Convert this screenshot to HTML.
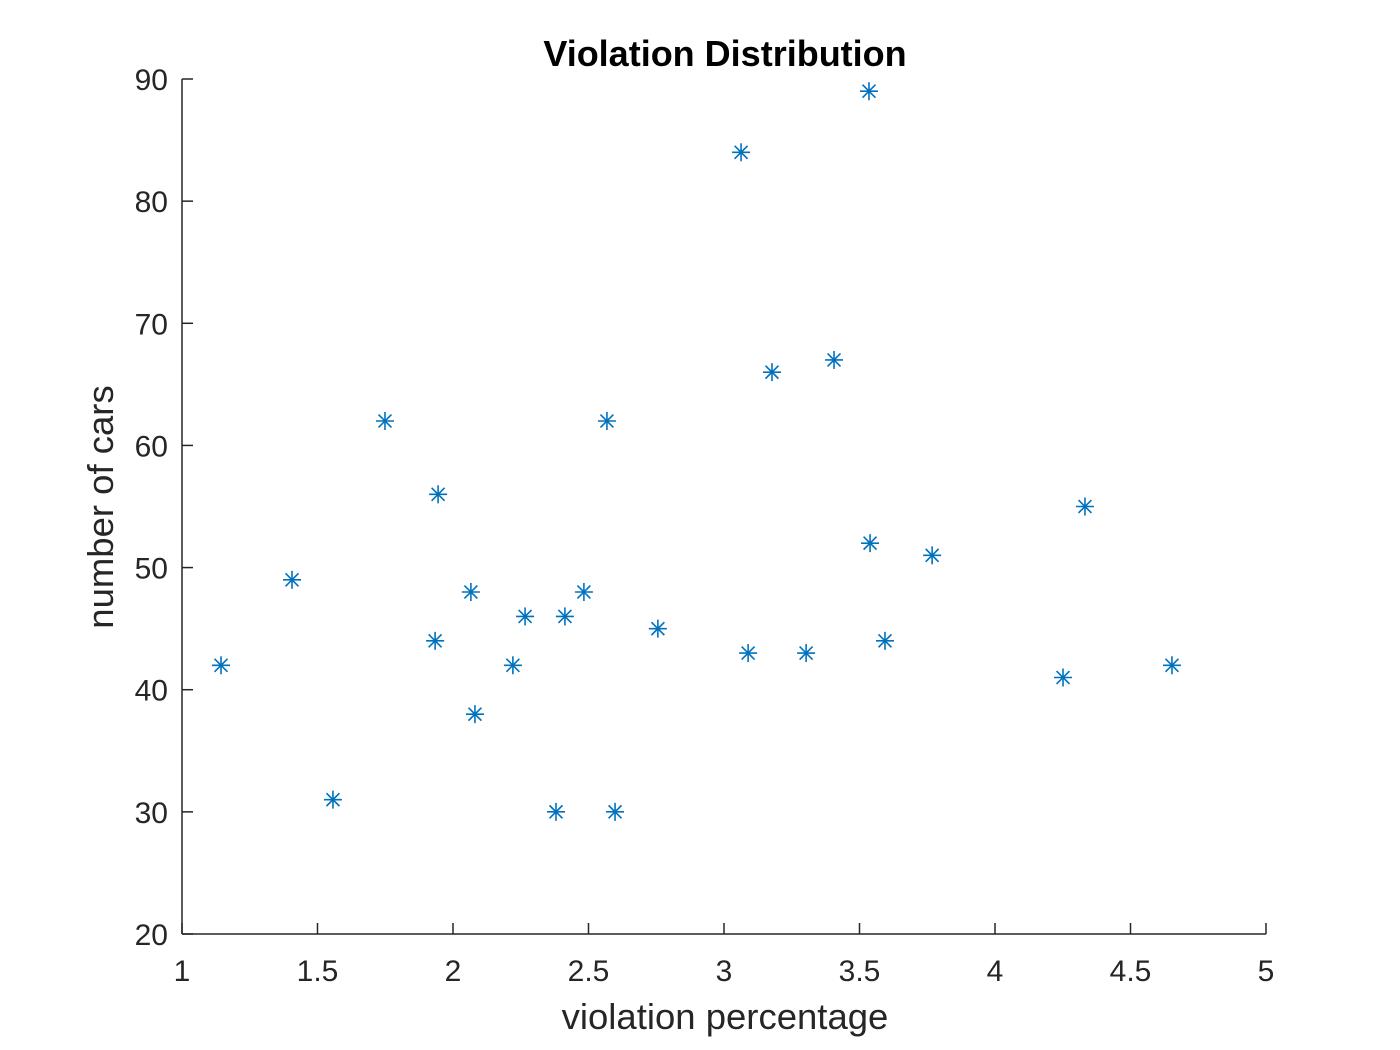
<!DOCTYPE html>
<html><head><meta charset="utf-8"><style>
html,body{margin:0;padding:0;background:#fff;}
svg{display:block;font-family:"Liberation Sans",Arial,sans-serif;}
</style></head><body>
<svg id="chart" width="1400" height="1050" viewBox="0 0 1400 1050">
<text x="725" y="66" text-anchor="middle" font-size="36" font-weight="bold" fill="#000">Violation Distribution</text>
<g id="axes"></g>
<g id="points"></g>
<text x="725" y="1029" text-anchor="middle" font-size="36.5" fill="#262626">violation percentage</text>
<text transform="translate(113,507) rotate(-90)" text-anchor="middle" font-size="36.5" fill="#262626">number of cars</text>
</svg>
<script>
const xs=[1.144,1.406,1.557,1.749,1.945,1.934,2.066,2.081,2.221,2.266,2.413,2.483,2.380,2.568,2.598,2.756,3.063,3.089,3.177,3.303,3.406,3.535,3.539,3.594,3.768,4.251,4.332,4.653];
const ys=[42,49,31,62,56,44,48,38,42,46,46,48,30,62,30,45,84,43,66,43,67,89,52,44,51,41,55,42];
const xTicks=[1,1.5,2,2.5,3,3.5,4,4.5,5];
const yTicks=[20,30,40,50,60,70,80,90];
const L=182,R=1266,T=79,B=934;
const sx=v=>L+(v-1)/4*(R-L);
const sy=v=>B-(v-20)/70*(B-T);
const NS="http://www.w3.org/2000/svg";
const axes=document.getElementById('axes');
function mk(tag,attrs,parent){const e=document.createElementNS(NS,tag);for(const k in attrs)e.setAttribute(k,attrs[k]);parent.appendChild(e);return e;}
const xl=mk('line',{x1:L,y1:B,x2:R,y2:B,stroke:'#262626','stroke-width':1.5},axes);


const yl=mk('line',{x1:L,y1:T,x2:L,y2:B,stroke:'#262626','stroke-width':1.5},axes);


xTicks.forEach(t=>{
  const x=sx(t);
  mk('line',{x1:x,y1:B,x2:x,y2:B-11,stroke:'#262626','stroke-width':1.5},axes);
  const tx=mk('text',{x:x,y:B+47,'text-anchor':'middle','font-size':30,fill:'#262626'},axes);
  tx.textContent=t;
  
  
});
yTicks.forEach(t=>{
  const y=sy(t);
  mk('line',{x1:L,y1:y,x2:L+11,y2:y,stroke:'#262626','stroke-width':1.5},axes);
  const tx=mk('text',{x:L-14,y:y+11,'text-anchor':'end','font-size':30,fill:'#262626'},axes);
  tx.textContent=t;
  
  
});
const pts=document.getElementById('points');
xs.forEach((v,i)=>{
  const cx=sx(v),cy=sy(ys[i]),r=9,d=r*0.72;
  const g=mk('g',{stroke:'#0072BD','stroke-width':1.6},pts);
  
  
  mk('line',{x1:cx-r,y1:cy,x2:cx+r,y2:cy},g);
  mk('line',{x1:cx,y1:cy-r,x2:cx,y2:cy+r},g);
  mk('line',{x1:cx-d,y1:cy-d,x2:cx+d,y2:cy+d},g);
  mk('line',{x1:cx-d,y1:cy+d,x2:cx+d,y2:cy-d},g);
});
</script>
</body></html>
